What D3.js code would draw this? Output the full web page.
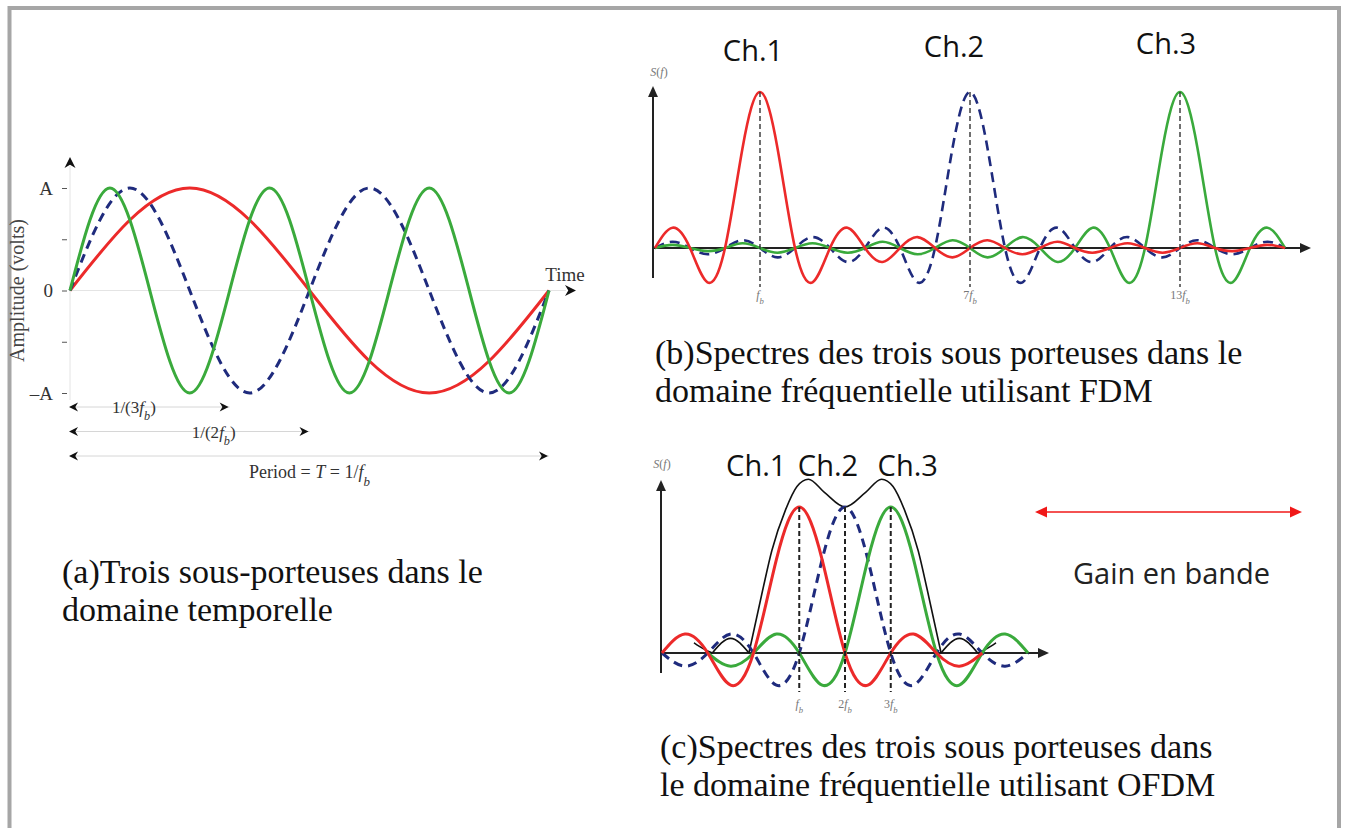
<!DOCTYPE html>
<html>
<head>
<meta charset="utf-8">
<script src="https://cdn.jsdelivr.net/npm/d3@7/dist/d3.min.js"></script>
<style>
    html, body { margin: 0; padding: 0; background: #fff; }
    svg { display: block; }
</style>
</head>
<body>
<div id="chart"></div>
<script>
// ---- (a) time domain: t in 24ths of the period T, amplitude in units of A
var redWave = [[0, 0], [6, 1], [12, 0], [18, -1], [24, 0]];
var blueWave = [[0, 0], [3, 1], [6, 0], [9, -1], [12, 0], [15, 1], [18, 0], [21, -1], [24, 0]];
var greenWave = [[0, 0], [2, 1], [4, 0], [6, -1], [8, 0], [10, 1], [12, 0], [14, -1], [16, 0],
    [18, 1], [20, 0], [22, -1], [24, 0]];
var ampTicks = [-1, -0.5, 0, 0.5, 1];
var ampLabels = ["\u2013A", "", "0", "", "A"];
var spanEnds = [8, 12, 24];
var spanLabels = ["1/(3*f*_b)", "1/(2*f*_b)", "Period = *T* = 1/*f*_b"];

var freqB = [-2, -1.5, -1, -0.5, 0, 0.5, 1, 1.5, 2, 2.5, 3, 3.5, 4, 4.5, 5, 5.5, 6, 6.5, 7, 7.5,
    8, 8.5, 9, 9.5, 10, 10.5, 11, 11.5, 12, 12.5, 13, 13.5, 14, 14.5, 15, 15.5, 16];
var redB = [0, 0.13, 0, -0.22, 0, 0.64, 1, 0.64, 0, -0.22, 0, 0.13, 0, -0.09, 0, 0.07, 0, -0.06, 0, 0.05,
    0, -0.04, 0, 0.04, 0, -0.03, 0, 0.03, 0, -0.03, 0, 0.03, 0, -0.02, 0, 0.02, 0];
var blueB = [0, 0.04, 0, -0.04, 0, 0.05, 0, -0.06, 0, 0.07, 0, -0.09, 0, 0.13, 0, -0.22, 0, 0.64, 1, 0.64,
    0, -0.22, 0, 0.13, 0, -0.09, 0, 0.07, 0, -0.06, 0, 0.05, 0, -0.04, 0, 0.04, 0];
var greenB = [0, 0.02, 0, -0.02, 0, 0.03, 0, -0.03, 0, 0.03, 0, -0.03, 0, 0.04, 0, -0.04, 0, 0.05, 0, -0.06,
    0, 0.07, 0, -0.09, 0, 0.13, 0, -0.22, 0, 0.64, 1, 0.64, 0, -0.22, 0, 0.13, 0];
var channelsB = [1, 7, 13];
var channelTicksB = ["*f*_b", "7*f*_b", "13*f*_b"];

// ---- (c) OFDM spectra
var freqC = [-2, -1.5, -1, -0.5, 0, 0.5, 1, 1.5, 2, 2.5, 3, 3.5, 4, 4.5, 5, 5.5, 6];
var redC = [0, 0.13, 0, -0.22, 0, 0.64, 1, 0.64, 0, -0.22, 0, 0.13, 0, -0.09, 0, null, null];
var blueC = [0, -0.09, 0, 0.13, 0, -0.22, 0, 0.64, 1, 0.64, 0, -0.22, 0, 0.13, 0, -0.09, 0];
var greenC = [null, null, 0, -0.09, 0, 0.13, 0, -0.22, 0, 0.64, 1, 0.64, 0, -0.22, 0, 0.13, 0];
// black envelope, drawn as separate arches (f, value)
var envelopeC = [
    [[-1.3, 0.07], [-1.1, 0.03], [-0.9, 0]],
    [[-0.9, 0], [-0.5, 0.1], [-0.1, 0]],
    [[-0.1, 0], [0.2, 0.43], [0.4, 0.7], [0.7, 0.98], [0.95, 1.14], [1.2, 1.19], [1.55, 1.1], [2, 1.0],
        [2.45, 1.1], [2.8, 1.19], [3.05, 1.14], [3.3, 0.98], [3.6, 0.7], [3.8, 0.43], [4.1, 0]],
    [[4.1, 0], [4.5, 0.1], [4.9, 0]],
    [[4.9, 0], [5.1, 0.03], [5.3, 0.07]]
];
var channelsC = [1, 2, 3];
var channelTicksC = ["*f*_b", "2*f*_b", "3*f*_b"];
var channelNames = ["Ch.1", "Ch.2", "Ch.3"];

var captionA = ["(a)Trois sous-porteuses dans le", "domaine temporelle"];
var captionB = ["(b)Spectres des trois sous porteuses dans le", "domaine fr\u00e9quentielle utilisant FDM"];
var captionC = ["(c)Spectres des trois sous porteuses dans", "le domaine fr\u00e9quentielle utilisant OFDM"];

var RED = "#ec2a2a", GREEN = "#3aaa3c", BLUE = "#1f2b7d";
var SERIF = "'Liberation Serif', 'Times New Roman', serif";
var SANS = "'Open Sans', 'Liberation Sans', sans-serif";

var svg = d3.select("#chart")
    .append("svg")
    .attr("width", 1347)
    .attr("height", 828);

// grey frame (open at the bottom)
svg.append("path")
    .attr("d", "M9.5,828V8H1339V828")
    .attr("fill", "none")
    .attr("stroke", "#a6a6a6")
    .attr("stroke-width", 4);

// text with *italic* and _subscript tokens
function mathText(sel, str) {
    str.match(/(\*[^*]+\*|_[a-z]|[^*_]+)/g).forEach(function(tok) {
        if (tok[0] === "*") {
            sel.append("tspan").attr("font-style", "italic").text(tok.slice(1, -1));
        } else if (tok[0] === "_") {
            sel.append("tspan")
                .attr("font-style", "italic")
                .attr("font-size", "0.72em")
                .attr("baseline-shift", "sub")
                .text(tok.slice(1));
        } else {
            sel.append("tspan").text(tok);
        }
    });
    return sel;
}

// chevron arrowhead (a) or filled triangle, pointing along angle (deg)
function arrowHead(g, x, y, angle, kind, color, size) {
    var s = size || 10;
    var d = kind === "chevron"
        ? "M0,0L" + (-s) + "," + (-s * 0.5) + "L" + (-s * 0.7) + ",0L" + (-s) + "," + (s * 0.5) + "Z"
        : "M0,0L" + (-s) + "," + (-s * 0.45) + "L" + (-s) + "," + (s * 0.45) + "Z";
    g.append("path")
        .attr("d", d)
        .attr("fill", color)
        .attr("transform", "translate(" + x + "," + y + ")rotate(" + angle + ")");
}

function caption(lines, x, y0) {
    var t = svg.append("text")
        .attr("font-family", SERIF)
        .attr("font-size", 34)
        .attr("fill", "#111");
    lines.forEach(function(l, i) {
        t.append("tspan").attr("x", x).attr("y", y0 + i * 37.5).text(l);
    });
}

// ================= (a)
var xA = d3.scaleLinear().domain([0, 24]).range([70, 549]);
var yA = d3.scaleLinear().domain([-1, 1]).range([393, 188]);
var gA = svg.append("g");

gA.append("line")
    .attr("x1", xA(0)).attr("x2", 566)
    .attr("y1", yA(0)).attr("y2", yA(0))
    .attr("stroke", "#e4e4e4");
gA.append("line")
    .attr("x1", xA(0)).attr("x2", xA(0))
    .attr("y1", 400).attr("y2", 166)
    .attr("stroke", "#e4e4e4");
arrowHead(gA, 576, yA(0), 0, "chevron", "#111", 11);
arrowHead(gA, xA(0), 157, -90, "chevron", "#111", 11);

var axA = gA.append("g")
    .attr("transform", "translate(" + (xA(0) - 3) + ",0)")
    .call(d3.axisLeft(yA)
        .tickValues(ampTicks)
        .tickFormat(function(d, i) { return ampLabels[i]; })
        .tickSize(5)
        .tickPadding(9));
axA.select(".domain").remove();
axA.selectAll(".tick line").attr("stroke", "#555");
axA.selectAll(".tick text")
    .attr("font-family", SERIF)
    .attr("font-size", 19)
    .attr("fill", "#333");

gA.append("text")
    .attr("transform", "translate(24," + yA(0) + ")rotate(-90)")
    .attr("text-anchor", "middle")
    .attr("font-family", SERIF)
    .attr("font-size", 20)
    .attr("fill", "#444")
    .text("Amplitude (volts)");
gA.append("text")
    .attr("x", 565).attr("y", 281)
    .attr("text-anchor", "middle")
    .attr("font-family", SERIF)
    .attr("font-size", 19)
    .attr("fill", "#333")
    .text("Time");

var lineA = d3.line()
    .x(function(d) { return xA(d[0]); })
    .y(function(d) { return yA(d[1]); })
    .curve(d3.curveNatural);

gA.append("path").attr("d", lineA(redWave))
    .attr("fill", "none").attr("stroke", RED).attr("stroke-width", 3);
gA.append("path").attr("d", lineA(blueWave))
    .attr("fill", "none").attr("stroke", BLUE).attr("stroke-width", 3)
    .attr("stroke-dasharray", "9,6");
gA.append("path").attr("d", lineA(greenWave))
    .attr("fill", "none").attr("stroke", GREEN).attr("stroke-width", 3);

spanEnds.forEach(function(end, i) {
    var y = 407 + i * 24.5;
    gA.append("line")
        .attr("x1", xA(0)).attr("x2", xA(end))
        .attr("y1", y).attr("y2", y)
        .attr("stroke", "#d6d6d6");
    arrowHead(gA, xA(0) - 1, y, 180, "chevron", "#111", 9);
    arrowHead(gA, xA(end) - 1, y, 0, "chevron", "#111", 9);
    var last = i === spanEnds.length - 1;
    var t = gA.append("text")
        .attr("x", last ? xA(end / 2) : xA(end * (i === 0 ? 0.4 : 0.6)))
        .attr("y", last ? y + 22 : y + 6)
        .attr("text-anchor", "middle")
        .attr("font-family", SERIF)
        .attr("font-size", last ? 18 : 17)
        .attr("fill", "#333");
    mathText(t, spanLabels[i]);
});

caption(captionA, 62, 583);

// ================= (b)
var xB = d3.scaleLinear().domain([-2, 16]).range([655, 1285]);
var yB = d3.scaleLinear().domain([0, 1]).range([248, 92]);
var gB = svg.append("g");

gB.append("line").attr("x1", 653).attr("x2", 1302).attr("y1", yB(0)).attr("y2", yB(0))
    .attr("stroke", "#222").attr("stroke-width", 2);
arrowHead(gB, 1311, yB(0), 0, "tri", "#222", 11);
gB.append("line").attr("x1", 653).attr("x2", 653).attr("y1", 278).attr("y2", 96)
    .attr("stroke", "#222").attr("stroke-width", 2);
arrowHead(gB, 653, 86, -90, "tri", "#222", 11);
mathText(gB.append("text")
    .attr("x", 659).attr("y", 76)
    .attr("text-anchor", "middle")
    .attr("font-family", SERIF).attr("font-size", 12).attr("fill", "#777"), "*S*(*f*)");

function lineFrom(xs, xScale, yScale) {
    return d3.line()
        .defined(function(d) { return d !== null; })
        .x(function(d, i) { return xScale(xs[i]); })
        .y(function(d) { return yScale(d); })
        .curve(d3.curveNatural);
}
var lineB = lineFrom(freqB, xB, yB);

gB.append("path").attr("d", lineB(blueB))
    .attr("fill", "none").attr("stroke", BLUE).attr("stroke-width", 2.6)
    .attr("stroke-dasharray", "10,6");
gB.append("path").attr("d", lineB(greenB))
    .attr("fill", "none").attr("stroke", GREEN).attr("stroke-width", 2.6);
gB.append("path").attr("d", lineB(redB))
    .attr("fill", "none").attr("stroke", RED).attr("stroke-width", 2.6);

var chOffsetB = [-7, -16, -14];
var chBaseB = [61, 57, 54];
channelsB.forEach(function(f, i) {
    gB.append("line")
        .attr("x1", xB(f)).attr("x2", xB(f))
        .attr("y1", yB(1)).attr("y2", 287)
        .attr("stroke", "#333").attr("stroke-width", 1.4)
        .attr("stroke-dasharray", "5,3");
    mathText(gB.append("text")
        .attr("x", xB(f)).attr("y", 299)
        .attr("text-anchor", "middle")
        .attr("font-family", SERIF).attr("font-size", 12).attr("fill", "#777"), channelTicksB[i]);
    gB.append("text")
        .attr("x", xB(f) + chOffsetB[i]).attr("y", chBaseB[i])
        .attr("text-anchor", "middle")
        .attr("font-family", SANS).attr("font-size", 29).attr("fill", "#111")
        .text(channelNames[i]);
});

caption(captionB, 655, 364);

// ================= (c)
var xC = d3.scaleLinear().domain([-2, 6]).range([662, 1028]);
var yC = d3.scaleLinear().domain([0, 1]).range([653, 507]);
var gC = svg.append("g");

gC.append("line").attr("x1", 661).attr("x2", 1040).attr("y1", yC(0)).attr("y2", yC(0))
    .attr("stroke", "#222").attr("stroke-width", 2);
arrowHead(gC, 1049, yC(0), 0, "tri", "#222", 11);
gC.append("line").attr("x1", 661).attr("x2", 661).attr("y1", 673).attr("y2", 490)
    .attr("stroke", "#222").attr("stroke-width", 2);
arrowHead(gC, 661, 480, -90, "tri", "#222", 11);
mathText(gC.append("text")
    .attr("x", 662).attr("y", 468)
    .attr("text-anchor", "middle")
    .attr("font-family", SERIF).attr("font-size", 12).attr("fill", "#777"), "*S*(*f*)");

var lineC = lineFrom(freqC, xC, yC);
var envLine = d3.line()
    .x(function(d) { return xC(d[0]); })
    .y(function(d) { return yC(d[1]); })
    .curve(d3.curveMonotoneX);

envelopeC.forEach(function(seg) {
    gC.append("path").attr("d", envLine(seg))
        .attr("fill", "none").attr("stroke", "#111").attr("stroke-width", 1.6);
});
gC.append("path").attr("d", lineC(blueC))
    .attr("fill", "none").attr("stroke", BLUE).attr("stroke-width", 3)
    .attr("stroke-dasharray", "9,6");
gC.append("path").attr("d", lineC(greenC))
    .attr("fill", "none").attr("stroke", GREEN).attr("stroke-width", 3);
gC.append("path").attr("d", lineC(redC))
    .attr("fill", "none").attr("stroke", RED).attr("stroke-width", 3);

var chOffsetC = [-43, -17, 17];
channelsC.forEach(function(f, i) {
    gC.append("line")
        .attr("x1", xC(f)).attr("x2", xC(f))
        .attr("y1", yC(1)).attr("y2", 692)
        .attr("stroke", "#222").attr("stroke-width", 2)
        .attr("stroke-dasharray", "5,3");
    mathText(gC.append("text")
        .attr("x", xC(f)).attr("y", 708)
        .attr("text-anchor", "middle")
        .attr("font-family", SERIF).attr("font-size", 12).attr("fill", "#777"), channelTicksC[i]);
    gC.append("text")
        .attr("x", xC(f) + chOffsetC[i]).attr("y", 476)
        .attr("text-anchor", "middle")
        .attr("font-family", SANS).attr("font-size", 29).attr("fill", "#111")
        .text(channelNames[i]);
});

// bandwidth gain marker
var gG = svg.append("g");
gG.append("line").attr("x1", 1044).attr("x2", 1293).attr("y1", 512).attr("y2", 512)
    .attr("stroke", "#f01818").attr("stroke-width", 1.5);
arrowHead(gG, 1035, 512, 180, "tri", "#f01818", 12);
arrowHead(gG, 1302, 512, 0, "tri", "#f01818", 12);
gG.append("text")
    .attr("x", 1073).attr("y", 584)
    .attr("font-family", SANS).attr("font-size", 29).attr("fill", "#222")
    .text("Gain en bande");

caption(captionC, 660, 758);
</script>
</body>
</html>
